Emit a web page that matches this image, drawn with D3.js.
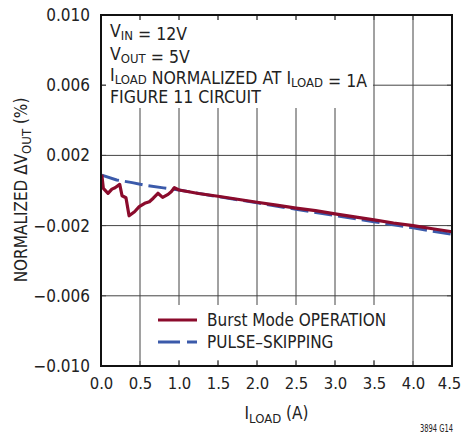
<!DOCTYPE html>
<html>
<head>
<meta charset="utf-8">
<script src="https://cdn.jsdelivr.net/npm/d3@7"></script>
<style>
  body { margin: 0; background: #fff; }
  svg text { font-family: "DejaVu Sans Condensed", "Liberation Sans Narrow", sans-serif; fill: #222; }
</style>
</head>
<body>
<svg id="chart"></svg>
<script>
// Burst Mode OPERATION trace
const burstLoad = [0.01, 0.03, 0.09, 0.14, 0.18, 0.24, 0.27, 0.32, 0.36, 0.43, 0.49, 0.56, 0.62, 0.67, 0.73, 0.79, 0.86, 0.9, 0.94, 1.0,
                   1.25, 1.5, 1.75, 2.0, 2.25, 2.5, 2.75, 3.0, 3.25, 3.5, 3.75, 4.0, 4.25, 4.5];
const burstDv = [0.0009, 0.00012, -0.00016, 0.00008, 0.00016, 0.00035, -0.0003, -0.00041, -0.00144, -0.00121, -0.00092, -0.00073, -0.00064, -0.00044, -0.00016, -0.00039, -0.00022, -0.00007, 0.00016, 0.00003,
                 -0.00017, -0.00033, -0.0005, -0.00067, -0.00083, -0.001, -0.00115, -0.00133, -0.0015, -0.00167, -0.00185, -0.002, -0.00218, -0.00235];

// PULSE-SKIPPING trace
const pulseLoad = [0.01, 0.2, 0.4, 0.6, 0.8, 1.0, 1.5, 2.0, 2.5, 3.0, 3.5, 4.0, 4.5];
const pulseDv = [0.00088, 0.0006, 0.00045, 0.00027, 0.00015, 0.00003, -0.00035, -0.0007, -0.00107, -0.00143, -0.00178, -0.00213, -0.0025];

const xTicks = [0, 0.5, 1, 1.5, 2, 2.5, 3, 3.5, 4, 4.5];
const yTicks = [-0.01, -0.006, -0.002, 0.002, 0.006, 0.01];

const width = 463, height = 435;
const margin = {top: 15, right: 11, bottom: 69, left: 101};
const plotW = width - margin.left - margin.right;
const plotH = height - margin.top - margin.bottom;

const svg = d3.select('#chart').attr('width', width).attr('height', height);
const g = svg.append('g').attr('transform', `translate(${margin.left},${margin.top})`);

const x = d3.scaleLinear().domain([0, 4.5]).range([0, plotW]);
const y = d3.scaleLinear().domain([-0.01, 0.01]).range([plotH, 0]);

// grid
g.selectAll('.vgrid').data(xTicks).join('line')
  .attr('class', 'vgrid')
  .attr('x1', d => x(d)).attr('x2', d => x(d))
  .attr('y1', 0).attr('y2', plotH)
  .attr('stroke', '#444').attr('stroke-width', 1);
g.selectAll('.hgrid').data(yTicks).join('line')
  .attr('class', 'hgrid')
  .attr('x1', 0).attr('x2', plotW)
  .attr('y1', d => y(d)).attr('y2', d => y(d))
  .attr('stroke', '#444').attr('stroke-width', 1);

// white panels behind the note and the legend
g.append('rect').attr('x', 5).attr('y', 5).attr('width', 267).attr('height', 88).attr('fill', '#fff');
g.append('rect').attr('x', 45).attr('y', 290).attr('width', 262).attr('height', 55).attr('fill', '#fff');

// short inward ticks on every side
const tk = 5;
xTicks.forEach(d => {
  g.append('line').attr('x1', x(d)).attr('x2', x(d)).attr('y1', 0).attr('y2', tk).attr('stroke', '#444');
  g.append('line').attr('x1', x(d)).attr('x2', x(d)).attr('y1', plotH - tk).attr('y2', plotH).attr('stroke', '#444');
});
yTicks.forEach(d => {
  g.append('line').attr('x1', 0).attr('x2', tk).attr('y1', y(d)).attr('y2', y(d)).attr('stroke', '#444');
  g.append('line').attr('x1', plotW - tk).attr('x2', plotW).attr('y1', y(d)).attr('y2', y(d)).attr('stroke', '#444');
});

// curves
const line = d3.line().x(d => x(d[0])).y(d => y(d[1]));
g.append('path')
  .datum(pulseLoad.map((d, i) => [d, pulseDv[i]]))
  .attr('d', line).attr('fill', 'none')
  .attr('stroke', '#3b5aaa').attr('stroke-width', 3)
  .attr('stroke-dasharray', '18,6');
g.append('path')
  .datum(burstLoad.map((d, i) => [d, burstDv[i]]))
  .attr('d', line).attr('fill', 'none')
  .attr('stroke', '#8b0b2c').attr('stroke-width', 3.2)
  .attr('stroke-linejoin', 'round');

// frame
g.append('rect').attr('width', plotW).attr('height', plotH)
  .attr('fill', 'none').attr('stroke', '#111').attr('stroke-width', 2);

// axes labels
const xAxis = g.append('g').attr('transform', `translate(0,${plotH})`)
  .call(d3.axisBottom(x).tickValues(xTicks).tickSize(0).tickPadding(11).tickFormat(d3.format('.1f')));
xAxis.select('.domain').remove();
xAxis.selectAll('text').attr('font-size', 16.5).attr('font-family', null).attr('fill', '#222');
// last label sits flush against the page edge, as in the original
xAxis.selectAll('.tick').filter(d => d === 4.5).select('text').attr('dx', -3);

const yAxis = g.append('g')
  .call(d3.axisLeft(y).tickValues(yTicks).tickSize(0).tickPadding(11).tickFormat(d3.format('.3f')));
yAxis.select('.domain').remove();
yAxis.selectAll('text').attr('font-size', 17).attr('font-family', null).attr('fill', '#222');

// note
function addLine(yy, parts) {
  const t = g.append('text').attr('x', 9).attr('y', yy).attr('font-size', 17.5);
  parts.forEach(p => {
    if (p.sub) {
      t.append('tspan').attr('font-size', 13).attr('dy', 3).text(p.sub);
      t.append('tspan').attr('dy', -3).text('');
    } else {
      t.append('tspan').text(p.t);
    }
  });
  return t;
}
addLine(22, [{t: 'V'}, {sub: 'IN'}, {t: ' = 12V'}]);
addLine(45, [{t: 'V'}, {sub: 'OUT'}, {t: ' = 5V'}]);
addLine(66, [{t: 'I'}, {sub: 'LOAD'}, {t: ' NORMALIZED AT I'}, {sub: 'LOAD'}, {t: ' = 1A'}]);
addLine(88, [{t: 'FIGURE 11 CIRCUIT'}]);

// legend
const legend = g.append('g').attr('transform', `translate(57,305)`);
legend.append('line').attr('x1', 0).attr('x2', 39).attr('y1', 0).attr('y2', 0)
  .attr('stroke', '#8b0b2c').attr('stroke-width', 3);
legend.append('text').attr('x', 49).attr('y', 0).attr('dy', '0.35em').attr('font-size', 17).text('Burst Mode OPERATION');
legend.append('line').attr('x1', 0).attr('x2', 39).attr('y1', 22).attr('y2', 22)
  .attr('stroke', '#3b5aaa').attr('stroke-width', 3).attr('stroke-dasharray', '22,7');
legend.append('text').attr('x', 49).attr('y', 22).attr('dy', '0.35em').attr('font-size', 17).text('PULSE\u2013SKIPPING');

// axis titles
const xt = svg.append('text').attr('x', margin.left + plotW / 2).attr('y', 419)
  .attr('text-anchor', 'middle').attr('font-size', 17);
xt.append('tspan').text('I');
xt.append('tspan').attr('font-size', 13).attr('dy', 4).text('LOAD');
xt.append('tspan').attr('dy', -4).text(' (A)');

const yt = svg.append('text')
  .attr('transform', 'translate(27,190) rotate(-90)')
  .attr('text-anchor', 'middle').attr('font-size', 17);
yt.append('tspan').text('NORMALIZED \u0394V');
yt.append('tspan').attr('font-size', 13).attr('dy', 4).text('OUT');
yt.append('tspan').attr('dy', -4).text(' (%)');

svg.append('text').attr('x', 453).attr('y', 432).attr('text-anchor', 'end')
  .attr('font-size', 10).attr('textLength', 33).attr('lengthAdjust', 'spacingAndGlyphs')
  .text('3894 G14');
</script>
</body>
</html>
